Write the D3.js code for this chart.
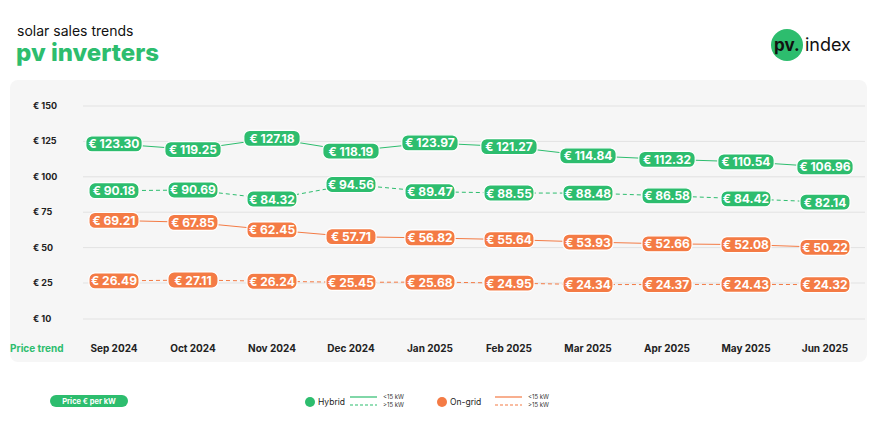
<!DOCTYPE html>
<html><head><meta charset="utf-8">
<script src="https://cdn.jsdelivr.net/npm/d3@7"></script>
<style>body{margin:0;background:#fff;font-family:Inter,"Noto Sans",sans-serif}</style>
</head><body><svg id="c" width="872" height="435"></svg>
<script>
const months = ["Sep 2024","Oct 2024","Nov 2024","Dec 2024","Jan 2025","Feb 2025","Mar 2025","Apr 2025","May 2025","Jun 2025"];
const hybridSmall = [123.30,119.25,127.18,118.19,123.97,121.27,114.84,112.32,110.54,106.96];
const hybridLarge = [90.18,90.69,84.32,94.56,89.47,88.55,88.48,86.58,84.42,82.14];
const ongridSmall = [69.21,67.85,62.45,57.71,56.82,55.64,53.93,52.66,52.08,50.22];
const ongridLarge = [26.49,27.11,26.24,25.45,25.68,24.95,24.34,24.37,24.43,24.32];
const yTicks = [150,125,100,75,50,25,10];
const GREEN = "#2dbd6e", ORANGE = "#f47b45";

const svg = d3.select("#c");
svg.append("text").attr("x",17).attr("y",36).attr("font-size",14).attr("fill","#111").text("solar sales trends");
svg.append("text").attr("x",16).attr("y",61).attr("font-size",24).attr("font-weight",800).attr("fill",GREEN).text("pv inverters");
// logo
svg.append("circle").attr("cx",787).attr("cy",45).attr("r",16).attr("fill",GREEN);
svg.append("text").attr("x",774).attr("y",51).attr("font-size",17).attr("font-weight",700).attr("fill","#111").text("pv.");
svg.append("text").attr("x",805).attr("y",51).attr("font-size",18).attr("fill","#111").text("index");

svg.append("rect").attr("x",10).attr("y",80).attr("width",857).attr("height",282).attr("rx",8).attr("fill","#f6f6f6");

const x = d3.scalePoint().domain(months).range([114,825]);
const y = d3.scaleLinear().domain([10,25,150]).range([319,283,106]);

const g = svg.append("g");
yTicks.forEach(t => {
  g.append("line").attr("x1",83).attr("x2",865).attr("y1",y(t)).attr("y2",y(t)).attr("stroke","#e2e2e2");
  g.append("text").attr("x",33).attr("y",y(t)+3).attr("font-size",9).attr("font-weight",700).attr("fill","#222").text("€ "+t);
});
months.forEach(m => g.append("text").attr("x",x(m)).attr("y",352).attr("text-anchor","middle")
  .attr("font-size",10).attr("font-weight",700).attr("fill","#222").text(m));
g.append("text").attr("x",10).attr("y",352).attr("font-size",10).attr("font-weight",700).attr("fill",GREEN).text("Price trend");

const series = [
  {v:hybridSmall,c:GREEN,dash:null},
  {v:hybridLarge,c:GREEN,dash:"4,3"},
  {v:ongridSmall,c:ORANGE,dash:null},
  {v:ongridLarge,c:ORANGE,dash:"4,3"}
];
const line = d3.line().x((d,i)=>x(months[i])).y(d=>y(d));
series.forEach(s => {
  g.append("path").datum(s.v).attr("d",line).attr("fill","none").attr("stroke",s.c)
    .attr("stroke-width",1).attr("stroke-dasharray",s.dash);
});
series.forEach(s => {
  s.v.forEach((d,i) => {
    const label = "€ " + d.toFixed(2);
    const w = label.length*6.3+6;
    const cx = x(months[i]), cy = y(d);
    g.append("rect").attr("x",cx-w/2).attr("y",cy-8).attr("width",w).attr("height",16).attr("rx",6)
      .attr("fill",s.c).attr("stroke","#fff").attr("stroke-width",1.2);
    g.append("text").attr("x",cx).attr("y",cy+4.5).attr("text-anchor","middle").attr("font-size",12)
      .attr("font-weight",700).attr("fill","#fff").text(label);
  });
});

// footer
svg.append("rect").attr("x",50).attr("y",395).attr("width",78).attr("height",12).attr("rx",6).attr("fill",GREEN);
svg.append("text").attr("x",89).attr("y",404).attr("text-anchor","middle").attr("font-size",7.5).attr("font-weight",700).attr("fill","#fff").text("Price € per kW");

const legend = [{name:"Hybrid",c:GREEN,x:305},{name:"On-grid",c:ORANGE,x:437}];
legend.forEach(l => {
  svg.append("circle").attr("cx",l.x+5).attr("cy",402).attr("r",5).attr("fill",l.c);
  svg.append("text").attr("x",l.x+13).attr("y",405).attr("font-size",8.5).attr("fill","#222").text(l.name);
  const lx = l.x + (l.name==="Hybrid"?45:58);
  svg.append("line").attr("x1",lx).attr("x2",lx+27).attr("y1",397).attr("y2",397).attr("stroke",l.c).attr("stroke-width",1.2);
  svg.append("line").attr("x1",lx).attr("x2",lx+27).attr("y1",405).attr("y2",405).attr("stroke",l.c).attr("stroke-width",1.2).attr("stroke-dasharray","3,2");
  svg.append("text").attr("x",lx+33).attr("y",399).attr("font-size",6).attr("fill","#333").text("<15 kW");
  svg.append("text").attr("x",lx+33).attr("y",407).attr("font-size",6).attr("fill","#333").text(">15 kW");
});
</script></body></html>
